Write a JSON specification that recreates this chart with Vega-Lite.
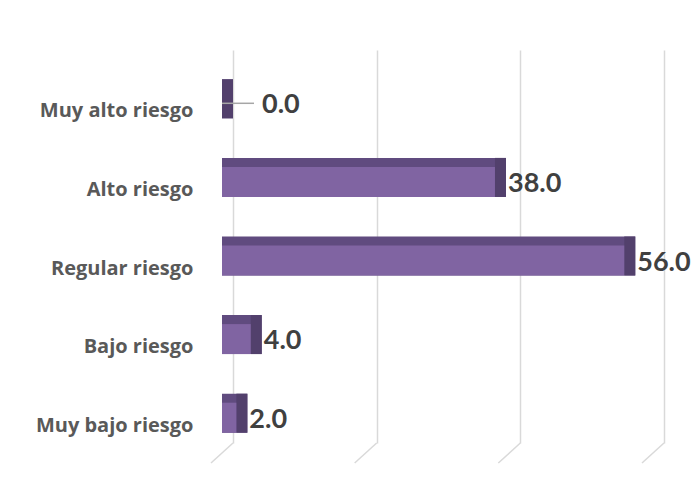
{
  "$schema": "https://vega.github.io/schema/vega-lite/v6.json",
  "width": 431,
  "height": 393,
  "autosize": "none",
  "padding": {"left": 233, "top": 50, "right": 27, "bottom": 48},
  "background": "white",
  "config": {"view": {"stroke": null}},
  "data": {
    "values": [
      {"cat": "Muy alto riesgo", "v": 0},
      {"cat": "Alto riesgo", "v": 38},
      {"cat": "Regular riesgo", "v": 56},
      {"cat": "Bajo riesgo", "v": 4},
      {"cat": "Muy bajo riesgo", "v": 2}
    ]
  },
  "encoding": {
    "x": {
      "field": "v",
      "type": "quantitative",
      "scale": {"domain": [0, 60], "nice": false},
      "axis": {"values": [0, 20, 40, 60], "labels": false, "ticks": false, "domain": false, "title": null, "gridColor": "#d9d9d9", "gridWidth": 1.5}
    },
    "y": {
      "field": "cat",
      "type": "nominal",
      "sort": ["Muy alto riesgo", "Alto riesgo", "Regular riesgo", "Bajo riesgo", "Muy bajo riesgo"],
      "scale": {"paddingInner": 0, "paddingOuter": 0},
      "axis": {"title": null, "domain": false, "ticks": false, "grid": false, "labelFont": "Open Sans", "labelFontWeight": "bold", "labelFontSize": 20, "labelColor": "#595959", "labelPadding": 40, "labelOffset": 22}
    }
  },
  "layer": [
    {
      "data": {"values": [{"v": 0}, {"v": 20}, {"v": 40}, {"v": 60}]},
      "mark": {"type": "rule", "color": "#d9d9d9", "strokeWidth": 1.5, "x2Offset": -22, "yOffset": 39.3, "y2Offset": 59.3},
      "encoding": {
        "x2": {"field": "v"},
        "y": {"datum": "Muy bajo riesgo"},
        "y2": {"datum": "Muy bajo riesgo"}
      }
    },
    {
      "mark": {"type": "bar", "color": "#604b7f", "height": 39, "yOffset": 9.5, "x2Offset": -11},
      "encoding": {"x2": {"datum": 0}}
    },
    {
      "mark": {"type": "bar", "color": "#52406c", "height": 39, "yOffset": 9.5, "x2Offset": -11},
      "encoding": {"x2": {"field": "v"}}
    },
    {
      "mark": {"type": "bar", "color": "#8064a2", "height": 30, "yOffset": 14, "xOffset": -11, "x2Offset": -11},
      "encoding": {"x2": {"datum": 0}}
    },
    {
      "transform": [{"filter": "datum.v == 0"}],
      "mark": {"type": "rule", "color": "#a6a6a6", "strokeWidth": 1.5, "xOffset": -11, "x2Offset": 21, "yOffset": 14},
      "encoding": {"x2": {"field": "v"}}
    },
    {
      "transform": [{"filter": "datum.v > 0"}],
      "mark": {"type": "text", "align": "left", "baseline": "middle", "dx": 2, "yOffset": 16, "font": "Lato", "fontWeight": "bold", "fontSize": 27, "color": "#404040"},
      "encoding": {"text": {"field": "v", "type": "quantitative", "format": ".1f"}}
    },
    {
      "transform": [{"filter": "datum.v == 0"}],
      "mark": {"type": "text", "align": "left", "baseline": "middle", "dx": 29, "yOffset": 16, "font": "Lato", "fontWeight": "bold", "fontSize": 27, "color": "#404040"},
      "encoding": {"text": {"field": "v", "type": "quantitative", "format": ".1f"}}
    }
  ]
}
